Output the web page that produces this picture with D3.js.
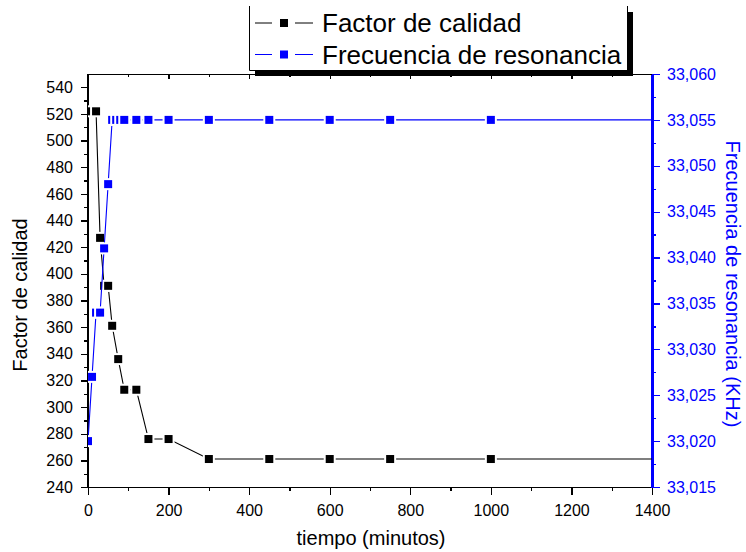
<!DOCTYPE html>
<html>
<head>
<meta charset="utf-8">
<script src="https://cdn.jsdelivr.net/npm/d3@7"></script>
<style>
	body { margin: 0; background: #fff; }
	svg { display: block; font-family: "Liberation Sans", Arial, sans-serif; }
	.axis path, .axis line { shape-rendering: crispEdges; }
</style>
</head>
<body>
<script>
//datos
var tiempoQ = [0, 20, 30, 40, 50, 60, 75, 90, 120, 150, 200, 300, 450, 600, 750, 1000];
var factorQ = [522, 522, 427, 391, 391, 361, 336, 313, 313, 276, 276, 261, 261, 261, 261, 261];
var tiempoF = [0, 10, 20, 30, 40, 50, 60, 70, 80, 90, 120, 150, 200, 300, 450, 600, 750, 1000];
var frecF = [33020, 33027, 33034, 33034, 33041, 33048, 33055, 33055, 33055, 33055, 33055, 33055, 33055, 33055, 33055, 33055, 33055, 33055];

var xTicks = [0, 200, 400, 600, 800, 1000, 1200, 1400];
var yLeftTicks = [240, 260, 280, 300, 320, 340, 360, 380, 400, 420, 440, 460, 480, 500, 520, 540];
var yRightTicks = [33015, 33020, 33025, 33030, 33035, 33040, 33045, 33050, 33055, 33060];

var leyenda = ["Factor de calidad", "Frecuencia de resonancia"];

(function(){
	var width = 746,
		height = 552;
	var left = 88, right = 652, top = 74, bottom = 487;
	var azul = "#0000ff";

	var svg = d3.select("body")
		.append("svg")
		.attr("width", width)
		.attr("height", height);

	//escalas
	var x = d3.scaleLinear().domain([0, 1400]).range([left, right]);
	var yL = d3.scaleLinear().domain([240, 550]).range([bottom, top]);
	var yR = d3.scaleLinear().domain([33015, 33060]).range([bottom, top]);

	svg.append("clipPath")
		.attr("id", "clip")
		.append("rect")
		.attr("x", left)
		.attr("y", top)
		.attr("width", right - left)
		.attr("height", bottom - top);

	//ticks menores
	var xMinor = d3.range(100, 1400, 200);
	var yLMinor = d3.range(250, 550, 20);
	var yRMinor = d3.range(33017.5, 33060, 5);

	function styleAxis(g, color){
		g.selectAll("path").attr("stroke", color).attr("stroke-width", 1.6);
		g.selectAll("line").attr("stroke", color).attr("stroke-width", 1.3);
		g.selectAll("text").attr("fill", color).style("font-size", "16px").style("font-family", "Liberation Sans, Arial, sans-serif");
	}

	//eje superior (sin etiquetas, ticks hacia dentro)
	var gTop = svg.append("g").attr("class", "axis").attr("transform", "translate(0," + top + ")")
		.call(d3.axisTop(x).tickValues(xTicks).tickSize(-5).tickSizeOuter(0).tickFormat(""));
	svg.append("g").attr("class", "axis").attr("transform", "translate(0," + top + ")")
		.call(d3.axisTop(x).tickValues(xMinor).tickSize(-3).tickSizeOuter(0).tickFormat(""))
		.call(function(g){ g.select("path").remove(); })
		.call(function(g){ styleAxis(g, "#000"); });
	styleAxis(gTop, "#000");

	//eje inferior
	var gBot = svg.append("g").attr("class", "axis").attr("transform", "translate(0," + bottom + ")")
		.call(d3.axisBottom(x).tickValues(xTicks).tickSize(8).tickSizeOuter(0).tickPadding(10).tickFormat(d3.format("d")));
	styleAxis(gBot, "#000");
	svg.append("g").attr("class", "axis").attr("transform", "translate(0," + bottom + ")")
		.call(d3.axisBottom(x).tickValues(xMinor).tickSize(4).tickSizeOuter(0).tickFormat(""))
		.call(function(g){ g.select("path").remove(); })
		.call(function(g){ styleAxis(g, "#000"); });

	//eje izquierdo
	var gLeft = svg.append("g").attr("class", "axis").attr("transform", "translate(" + left + ",0)")
		.call(d3.axisLeft(yL).tickValues(yLeftTicks).tickSize(7).tickSizeOuter(0).tickPadding(8));
	styleAxis(gLeft, "#000");
	svg.append("g").attr("class", "axis").attr("transform", "translate(" + left + ",0)")
		.call(d3.axisLeft(yL).tickValues(yLMinor).tickSize(4).tickSizeOuter(0).tickFormat(""))
		.call(function(g){ g.select("path").remove(); })
		.call(function(g){ styleAxis(g, "#000"); });
	gLeft.select("path").attr("d", "M0," + bottom + "V" + top);

	//eje derecho (azul)
	var gRight = svg.append("g").attr("class", "axis").attr("transform", "translate(" + right + ",0)")
		.call(d3.axisRight(yR).tickValues(yRightTicks).tickSize(8).tickSizeOuter(0).tickPadding(7).tickFormat(d3.format(",")));
	styleAxis(gRight, azul);
	gRight.select("path").attr("stroke-width", 2.2);
	svg.append("g").attr("class", "axis").attr("transform", "translate(" + right + ",0)")
		.call(d3.axisRight(yR).tickValues(yRMinor).tickSize(4).tickFormat(""))
		.call(function(g){ g.select("path").remove(); })
		.call(function(g){ styleAxis(g, azul); });

	//series
	var plot = svg.append("g").attr("clip-path", "url(#clip)");

	function drawSeries(xs, ys, yScale, color){
		var pts = xs.map(function(t, i){ return [t, ys[i]]; });
		var ext = pts.concat([[x.domain()[1], ys[ys.length - 1]]]);
		var line = d3.line()
			.x(function(d){ return x(d[0]); })
			.y(function(d){ return yScale(d[1]); });
		plot.append("path")
			.datum(ext)
			.attr("fill", "none")
			.attr("stroke", color)
			.attr("stroke-width", 1.1)
			.attr("d", line);
		plot.selectAll(null)
			.data(pts)
			.enter()
			.append("rect")
			.attr("x", function(d){ return x(d[0]) - 4; })
			.attr("y", function(d){ return yScale(d[1]) - 4; })
			.attr("width", 8)
			.attr("height", 8)
			.attr("fill", color)
			.attr("stroke", "#fff")
			.attr("stroke-width", 4)
			.style("paint-order", "stroke");
	}
	drawSeries(tiempoQ, factorQ, yL, "#000");
	drawSeries(tiempoF, frecF, yR, azul);

	//titulos de ejes
	svg.append("text")
		.attr("x", (left + right) / 2 + 1)
		.attr("y", 545)
		.attr("text-anchor", "middle")
		.style("font-size", "20px")
		.text("tiempo (minutos)");
	svg.append("text")
		.attr("transform", "translate(27,295) rotate(-90)")
		.attr("text-anchor", "middle")
		.style("font-size", "20px")
		.text("Factor de calidad");
	svg.append("text")
		.attr("transform", "translate(726,284) rotate(90)")
		.attr("text-anchor", "middle")
		.attr("fill", azul)
		.style("font-size", "20px")
		.text("Frecuencia de resonancia (KHz)");

	//leyenda con sombra
	var lg = svg.append("g");
	lg.append("rect").attr("x", 255).attr("y", 12).attr("width", 378).attr("height", 64).attr("fill", "#000");
	lg.append("rect").attr("x", 249).attr("y", 6).attr("width", 378).attr("height", 64).attr("fill", "#fff");
	lg.append("path").attr("d", "M249.5,6V70.5H627.5V6").attr("fill", "none").attr("stroke", "#000").attr("stroke-width", 1);

	var lgColors = ["#000", azul];
	leyenda.forEach(function(name, i){
		var cy = 23 + i * 31.5;
		var row = lg.append("g");
		row.append("line").attr("x1", 255).attr("x2", 272).attr("y1", cy).attr("y2", cy)
			.attr("stroke", lgColors[i]).attr("stroke-width", 1);
		row.append("line").attr("x1", 295).attr("x2", 313).attr("y1", cy).attr("y2", cy)
			.attr("stroke", lgColors[i]).attr("stroke-width", 1);
		row.append("rect").attr("x", 280).attr("y", cy - 4).attr("width", 8).attr("height", 8)
			.attr("fill", lgColors[i]);
		row.append("text").attr("x", 322).attr("y", cy + 9)
			.style("font-size", "26px")
			.text(name);
	});
})();
</script>
</body>
</html>
